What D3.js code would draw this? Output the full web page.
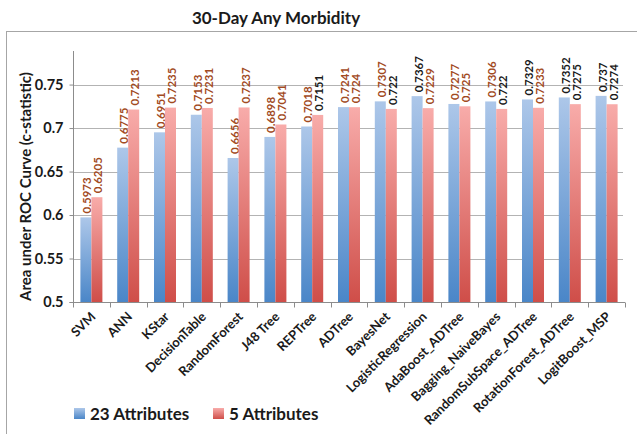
<!DOCTYPE html>
<html>
<head>
<meta charset="utf-8">
<script src="https://cdn.jsdelivr.net/npm/d3@7"></script>
<style>
  html, body { margin: 0; padding: 0; background: #fff; }
  svg { display: block; font-family: Lato, "Open Sans", sans-serif; }
</style>
</head>
<body>
<svg id="chart" width="637" height="434"></svg>
<script>
// Classifiers compared
const categories = ["SVM", "ANN", "KStar", "DecisionTable", "RandomForest", "J48 Tree",
  "REPTree", "ADTree", "BayesNet", "LogisticRegression", "AdaBoost_ADTree",
  "Bagging_NaiveBayes", "RandomSubSpace_ADTree", "RotationForest_ADTree", "LogitBoost_MSP"];
// c-statistic with all 23 attributes
const attr23 = [0.5973, 0.6775, 0.6951, 0.7153, 0.6656, 0.6898, 0.7018, 0.7241, 0.7307,
  0.7367, 0.7277, 0.7306, 0.7329, 0.7352, 0.737];
// c-statistic with the 5 selected attributes
const attr5 = [0.6205, 0.7213, 0.7235, 0.7231, 0.7237, 0.7041, 0.7151, 0.724, 0.722,
  0.7229, 0.725, 0.722, 0.7233, 0.7275, 0.7274];
// value labels printed in black rather than brown
const dark23 = [0, 0, 0, 0, 0, 0, 0, 0, 0, 1, 0, 0, 1, 1, 1];
const dark5 = [0, 0, 0, 0, 0, 0, 1, 0, 1, 0, 0, 1, 0, 1, 1];
const seriesNames = ["23 Attributes", "5 Attributes"];
const yTicks = [0.5, 0.55, 0.6, 0.65, 0.7, 0.75];
const yTickLabels = ["0.5", "0.55", "0.6", "0.65", "0.7", "0.75"];
const title = "30-Day Any Morbidity";
const yTitle = "Area under ROC Curve (c-statistic)";

const svg = d3.select("#chart");
const plot = { left: 73, right: 625, top: 51, bottom: 302 };

// chart frame
svg.append("rect").attr("x", 6.5).attr("y", 31.5).attr("width", 700).attr("height", 500)
  .attr("fill", "none").attr("stroke", "#a6a6a6").attr("stroke-width", 1);

svg.append("text").attr("x", 276).attr("y", 24).attr("text-anchor", "middle")
  .attr("font-size", 17).attr("font-weight", 700).attr("fill", "#1a1a1a").text(title);

// gradients
const defs = svg.append("defs");
function grad(id, top, bottom) {
  const g = defs.append("linearGradient").attr("id", id)
    .attr("x1", 0).attr("y1", 0).attr("x2", 0).attr("y2", 1);
  g.append("stop").attr("offset", "0%").attr("stop-color", top);
  g.append("stop").attr("offset", "100%").attr("stop-color", bottom);
}
grad("gBlue", "#adc7e9", "#4a86c8");
grad("gRed", "#f8acaa", "#cf4e49");
const fills = ["url(#gBlue)", "url(#gRed)"];

const y = d3.scaleLinear().domain([0.5, 0.7886]).range([plot.bottom, plot.top]);
const x = d3.scaleBand().domain(categories).range([plot.left, plot.right]).padding(0);
const inner = d3.scaleBand().domain([0, 1])
  .range([(x.bandwidth() - 22) / 2, (x.bandwidth() + 22) / 2]).padding(0);

// gridlines
svg.append("g").selectAll("line").data(yTicks.slice(1)).join("line")
  .attr("x1", plot.left).attr("x2", plot.right - 2)
  .attr("y1", d => Math.round(y(d)) + 0.5).attr("y2", d => Math.round(y(d)) + 0.5)
  .attr("stroke", "#b3b3b3").attr("stroke-width", 1);

// y axis
const yAxis = d3.axisLeft(y).tickValues(yTicks).tickSize(4).tickPadding(6)
  .tickFormat((d, i) => yTickLabels[i]);
const gy = svg.append("g").attr("transform", `translate(${plot.left + 0.5},0)`).call(yAxis);
gy.select(".domain").attr("stroke", "#8c8c8c").attr("d", `M-4,${plot.bottom + 0.5}H0V${plot.top}`);
gy.selectAll(".tick line").attr("stroke", "#8c8c8c");
gy.selectAll(".tick text").attr("font-size", 14.5).attr("font-weight", 700)
  .attr("fill", "#1a1a1a").attr("font-family", "Lato, sans-serif");

svg.append("text").attr("transform", `translate(31,${(plot.top + plot.bottom) / 2 + 10}) rotate(-90)`)
  .attr("text-anchor", "middle").attr("font-size", 15).attr("font-weight", 700)
  .attr("fill", "#1a1a1a").text(yTitle);

// x axis with ticks at category boundaries
const gx = svg.append("g").attr("transform", `translate(0,${plot.bottom + 0.5})`);
gx.append("line").attr("x1", plot.left).attr("x2", plot.right).attr("stroke", "#8c8c8c");
gx.selectAll("line.tk").data(categories.concat(["end"])).join("line").attr("class", "tk")
  .attr("x1", (d, i) => Math.round(plot.left + i * x.step()) + 0.5)
  .attr("x2", (d, i) => Math.round(plot.left + i * x.step()) + 0.5)
  .attr("y1", 0).attr("y2", 5).attr("stroke", "#8c8c8c");
gx.selectAll("text").data(categories).join("text")
  .attr("transform", d => `translate(${x(d) + x.bandwidth() / 2 + 5},${15}) rotate(-45)`)
  .attr("text-anchor", "end").attr("font-size", 13).attr("font-weight", 700)
  .attr("fill", "#1a1a1a").text(d => d);

// bars
const series = [attr23, attr5];
const darks = [dark23, dark5];
series.forEach((vals, s) => {
  const g = svg.append("g");
  g.selectAll("rect").data(vals).join("rect")
    .attr("x", (d, i) => x(categories[i]) + inner(s))
    .attr("width", inner.bandwidth())
    .attr("y", d => y(d))
    .attr("height", d => plot.bottom - y(d))
    .attr("fill", fills[s]);
  g.selectAll("text").data(vals).join("text")
    .attr("transform", (d, i) =>
      `translate(${x(categories[i]) + inner(s) + inner.bandwidth() / 2 + 1},${y(d) - 4}) rotate(-90)`)
    .attr("dominant-baseline", "central")
    .attr("font-size", 11.5).attr("font-weight", 700)
    .attr("fill", (d, i) => darks[s][i] ? "#1a1a1a" : "#a24b1f")
    .text(d => String(d));
});

// legend
const legend = svg.append("g");
const lx = [74, 213];
seriesNames.forEach((name, s) => {
  legend.append("rect").attr("x", lx[s]).attr("y", 408).attr("width", 11).attr("height", 11)
    .attr("fill", fills[s]);
  legend.append("text").attr("x", lx[s] + 16).attr("y", 420).attr("font-size", 17)
    .attr("font-weight", 700).attr("fill", "#1a1a1a").text(name);
});
</script>
</body>
</html>
